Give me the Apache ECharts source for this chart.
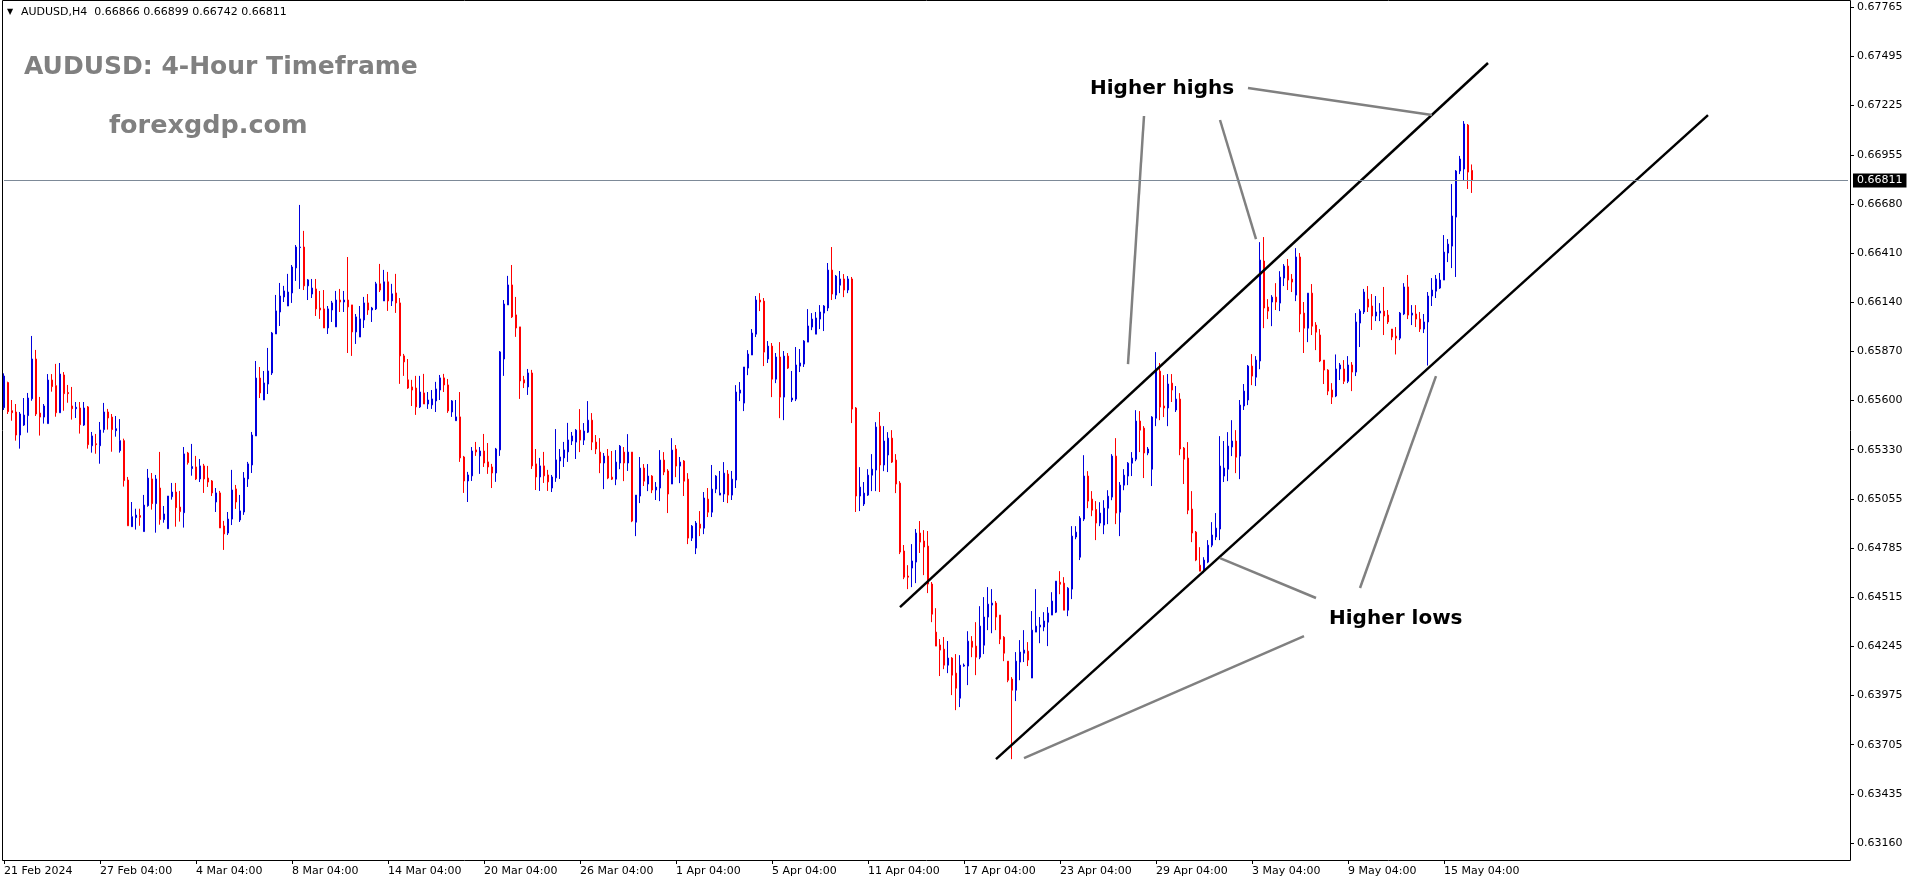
<!DOCTYPE html>
<html>
<head>
<meta charset="utf-8">
<script src="https://cdn.jsdelivr.net/npm/echarts@6/dist/echarts.min.js"></script>
<style>
html,body{margin:0;padding:0;background:#fff;}
#chart{width:1914px;height:884px;}
</style>
</head>
<body>
<div id="chart"></div>
<script>
// ---- DATA (AUDUSD H4, bar 0 = 21 Feb 2024 04:00) ----
const opens = [0.65559,0.65697,0.65542,0.65535,0.65408,0.65463,0.65515,0.65608,0.65827,0.65529,0.65507,0.65471,0.65711,0.65680,0.65531,0.65739,0.65642,0.65568,0.65553,0.65557,0.65463,0.65563,0.65349,0.65360,0.65349,0.65438,0.65535,0.65507,0.65432,0.65322,0.65377,0.65160,0.64903,0.64953,0.64964,0.64876,0.65019,0.65166,0.65030,0.65116,0.64942,0.64892,0.65068,0.65094,0.65011,0.64980,0.65309,0.65223,0.65232,0.65166,0.65238,0.65171,0.65155,0.65039,0.65089,0.64907,0.64868,0.64945,0.65111,0.64940,0.64984,0.65166,0.65243,0.65403,0.65722,0.65601,0.65689,0.65750,0.65965,0.66086,0.66169,0.66119,0.66191,0.66329,0.66441,0.66444,0.66230,0.66185,0.66213,0.66108,0.66103,0.65998,0.66097,0.66004,0.66152,0.66141,0.66152,0.66125,0.65976,0.65948,0.66042,0.66136,0.66097,0.66103,0.66241,0.66147,0.66252,0.66147,0.66191,0.66136,0.65844,0.65712,0.65673,0.65667,0.65563,0.65640,0.65579,0.65574,0.65596,0.65656,0.65723,0.65684,0.65535,0.65487,0.65508,0.65287,0.65155,0.65183,0.65326,0.65293,0.65320,0.65260,0.65232,0.65199,0.65326,0.65827,0.66125,0.66235,0.66070,0.66004,0.65712,0.65673,0.65750,0.65249,0.65177,0.65238,0.65188,0.65116,0.65172,0.65265,0.65282,0.65315,0.65375,0.65369,0.65435,0.65380,0.65424,0.65490,0.65369,0.65314,0.65254,0.65292,0.65176,0.65165,0.65254,0.65314,0.65254,0.65314,0.64928,0.65072,0.65226,0.65138,0.65182,0.65105,0.65116,0.65270,0.65210,0.65138,0.65331,0.65237,0.65265,0.65165,0.64840,0.64785,0.64917,0.64895,0.65055,0.64983,0.65110,0.65077,0.65083,0.65193,0.65077,0.65160,0.65639,0.65584,0.65777,0.65849,0.65964,0.66152,0.66146,0.65827,0.65898,0.65716,0.65838,0.65617,0.65843,0.65601,0.65606,0.65788,0.65799,0.65920,0.66003,0.65964,0.66047,0.66080,0.66108,0.66317,0.66179,0.66234,0.66268,0.66207,0.66268,0.65557,0.65072,0.65028,0.65077,0.65187,0.65215,0.65457,0.65243,0.65298,0.65391,0.65270,0.65143,0.64769,0.64631,0.64675,0.64708,0.64868,0.64824,0.64796,0.64587,0.64322,0.64251,0.64228,0.64140,0.64179,0.64096,0.63958,0.64135,0.64135,0.64272,0.64245,0.64184,0.64250,0.64405,0.64471,0.64482,0.64416,0.64294,0.64162,0.64063,0.64002,0.64157,0.64206,0.64217,0.64069,0.64322,0.64350,0.64350,0.64377,0.64416,0.64432,0.64597,0.64592,0.64443,0.64559,0.64846,0.64735,0.64945,0.65182,0.65055,0.64998,0.64923,0.64912,0.65005,0.65066,0.65292,0.64983,0.65132,0.65182,0.65253,0.65275,0.65485,0.65446,0.65309,0.65220,0.65501,0.65760,0.65568,0.65557,0.65694,0.65546,0.65606,0.65336,0.65281,0.65000,0.64873,0.64691,0.64664,0.64708,0.64801,0.64846,0.64890,0.65182,0.65220,0.65342,0.65375,0.65292,0.65568,0.65601,0.65788,0.65727,0.65816,0.66367,0.66113,0.66141,0.66168,0.66135,0.66273,0.66339,0.66267,0.66179,0.66389,0.66080,0.65997,0.66190,0.66014,0.65959,0.65821,0.65766,0.65656,0.65623,0.65772,0.65772,0.65704,0.65794,0.65755,0.66025,0.66086,0.66157,0.66119,0.66064,0.66080,0.66091,0.66069,0.65992,0.65953,0.65942,0.66075,0.66224,0.66069,0.66075,0.66047,0.65992,0.66031,0.66174,0.66201,0.66218,0.66262,0.66411,0.66449,0.66609,0.66863,0.66874,0.67116,0.66866];
const highs = [0.65748,0.65702,0.65601,0.65579,0.65535,0.65612,0.65640,0.65954,0.65877,0.65618,0.65579,0.65744,0.65744,0.65800,0.65805,0.65755,0.65684,0.65673,0.65590,0.65590,0.65590,0.65568,0.65425,0.65414,0.65480,0.65585,0.65552,0.65524,0.65513,0.65496,0.65388,0.65177,0.65039,0.65002,0.65002,0.65078,0.65221,0.65199,0.65188,0.65315,0.65017,0.65072,0.65144,0.65144,0.65100,0.65342,0.65315,0.65359,0.65293,0.65276,0.65249,0.65238,0.65160,0.65116,0.65100,0.64935,0.64984,0.65216,0.65133,0.65078,0.65204,0.65260,0.65425,0.65816,0.65783,0.65761,0.65888,0.65976,0.66180,0.66246,0.66230,0.66296,0.66345,0.66455,0.66676,0.66533,0.66268,0.66268,0.66268,0.66202,0.66207,0.66119,0.66147,0.66202,0.66213,0.66202,0.66389,0.66125,0.66075,0.66119,0.66169,0.66185,0.66114,0.66252,0.66351,0.66318,0.66307,0.66241,0.66296,0.66163,0.65855,0.65827,0.65712,0.65734,0.65734,0.65745,0.65645,0.65656,0.65701,0.65739,0.65745,0.65717,0.65601,0.65601,0.65645,0.65293,0.65205,0.65342,0.65370,0.65342,0.65414,0.65364,0.65249,0.65337,0.65871,0.66152,0.66285,0.66345,0.66169,0.66004,0.65734,0.65772,0.65767,0.65331,0.65282,0.65315,0.65216,0.65188,0.65441,0.65331,0.65370,0.65475,0.65425,0.65441,0.65551,0.65474,0.65595,0.65529,0.65408,0.65391,0.65309,0.65331,0.65320,0.65325,0.65353,0.65342,0.65413,0.65314,0.65077,0.65287,0.65248,0.65248,0.65187,0.65149,0.65325,0.65314,0.65220,0.65391,0.65353,0.65287,0.65270,0.65198,0.64912,0.64934,0.64989,0.65094,0.65116,0.65243,0.65187,0.65210,0.65259,0.65215,0.65210,0.65683,0.65700,0.65783,0.65876,0.65992,0.66174,0.66190,0.66163,0.65926,0.65915,0.65860,0.65920,0.65871,0.65860,0.65761,0.65893,0.65882,0.65931,0.66102,0.66080,0.66086,0.66124,0.66124,0.66356,0.66444,0.66290,0.66312,0.66295,0.66284,0.66279,0.65562,0.65231,0.65149,0.65220,0.65303,0.65479,0.65535,0.65457,0.65424,0.65435,0.65303,0.65154,0.64802,0.64691,0.64807,0.64890,0.64934,0.64884,0.64879,0.64598,0.64454,0.64284,0.64295,0.64273,0.64184,0.64201,0.64195,0.64149,0.64327,0.64300,0.64377,0.64465,0.64515,0.64570,0.64559,0.64493,0.64416,0.64300,0.64162,0.64074,0.64212,0.64278,0.64333,0.64267,0.64438,0.64559,0.64405,0.64432,0.64460,0.64542,0.64603,0.64658,0.64625,0.64570,0.64906,0.64906,0.64961,0.65297,0.65209,0.65099,0.65044,0.65038,0.65049,0.65104,0.65303,0.65391,0.65149,0.65220,0.65259,0.65314,0.65545,0.65540,0.65457,0.65342,0.65512,0.65865,0.65805,0.65738,0.65744,0.65744,0.65678,0.65639,0.65342,0.65369,0.65099,0.64879,0.64790,0.64735,0.64829,0.64928,0.64978,0.65402,0.65375,0.65424,0.65490,0.65435,0.65601,0.65689,0.65794,0.65854,0.65843,0.66471,0.66499,0.66157,0.66179,0.66245,0.66311,0.66350,0.66378,0.66295,0.66438,0.66411,0.66141,0.66190,0.66240,0.66030,0.65992,0.65821,0.65771,0.65694,0.65852,0.65805,0.65821,0.65843,0.65810,0.66080,0.66102,0.66213,0.66229,0.66185,0.66174,0.66135,0.66224,0.66097,0.65992,0.66003,0.66086,0.66245,0.66290,0.66124,0.66124,0.66086,0.66075,0.66196,0.66273,0.66290,0.66301,0.66510,0.66488,0.66791,0.66868,0.66946,0.67138,0.67122,0.66899];
const lows = [0.65546,0.65524,0.65487,0.65377,0.65333,0.65458,0.65421,0.65597,0.65513,0.65405,0.65471,0.65471,0.65647,0.65509,0.65531,0.65542,0.65586,0.65493,0.65502,0.65416,0.65458,0.65333,0.65311,0.65305,0.65250,0.65421,0.65438,0.65316,0.65399,0.65311,0.65124,0.64908,0.64903,0.64887,0.64908,0.64876,0.65013,0.64997,0.64870,0.64914,0.64925,0.64892,0.65052,0.64903,0.64931,0.64898,0.65245,0.65184,0.65160,0.65149,0.65089,0.65122,0.65072,0.64984,0.64896,0.64775,0.64857,0.64912,0.65001,0.64929,0.64968,0.65122,0.65199,0.65403,0.65612,0.65601,0.65634,0.65739,0.65965,0.66009,0.66141,0.66119,0.66136,0.66257,0.66213,0.66207,0.66152,0.66163,0.66064,0.66048,0.65998,0.65965,0.66031,0.66004,0.66086,0.66086,0.65860,0.65844,0.65910,0.65948,0.65998,0.66070,0.66031,0.66097,0.66196,0.66147,0.66092,0.66119,0.66081,0.65690,0.65734,0.65662,0.65568,0.65519,0.65557,0.65579,0.65552,0.65552,0.65535,0.65601,0.65645,0.65530,0.65508,0.65487,0.65260,0.65089,0.65039,0.65155,0.65293,0.65194,0.65232,0.65194,0.65116,0.65150,0.65293,0.65734,0.66125,0.66053,0.65949,0.65607,0.65667,0.65629,0.65221,0.65105,0.65100,0.65144,0.65100,0.65094,0.65150,0.65166,0.65232,0.65260,0.65353,0.65276,0.65314,0.65353,0.65419,0.65325,0.65303,0.65198,0.65110,0.65165,0.65160,0.65132,0.65220,0.65154,0.65210,0.64928,0.64851,0.65033,0.65127,0.65099,0.65088,0.65050,0.65044,0.65187,0.64978,0.65138,0.65176,0.65143,0.65072,0.64807,0.64824,0.64752,0.64851,0.64862,0.64956,0.64956,0.65088,0.65077,0.65039,0.65033,0.65050,0.65116,0.65595,0.65540,0.65738,0.65849,0.65948,0.66091,0.65788,0.65805,0.65617,0.65694,0.65501,0.65490,0.65772,0.65590,0.65595,0.65755,0.65783,0.65920,0.65986,0.65964,0.65992,0.65981,0.66091,0.66152,0.66157,0.66190,0.66168,0.66190,0.65474,0.64984,0.64989,0.65017,0.65072,0.65099,0.65099,0.65094,0.65209,0.65204,0.65254,0.65088,0.64752,0.64614,0.64559,0.64570,0.64592,0.64758,0.64636,0.64537,0.64377,0.64245,0.64080,0.64118,0.64096,0.63975,0.63892,0.63909,0.64131,0.64030,0.64184,0.64085,0.64173,0.64201,0.64333,0.64316,0.64333,0.64256,0.64162,0.64046,0.63622,0.63942,0.64057,0.64157,0.64135,0.64069,0.64322,0.64261,0.64327,0.64245,0.64416,0.64427,0.64531,0.64443,0.64410,0.64504,0.64834,0.64719,0.64934,0.65005,0.64961,0.64829,0.64906,0.64862,0.64917,0.65049,0.64917,0.64851,0.65104,0.65132,0.65182,0.65264,0.65314,0.65171,0.65297,0.65127,0.65457,0.65490,0.65507,0.65457,0.65590,0.65535,0.65297,0.65138,0.64972,0.64818,0.64713,0.64658,0.64647,0.64702,0.64790,0.64829,0.64829,0.65149,0.65154,0.65292,0.65198,0.65165,0.65546,0.65573,0.65683,0.65678,0.65771,0.65997,0.66047,0.66008,0.66097,0.66091,0.66229,0.66207,0.66196,0.66146,0.65975,0.65860,0.65920,0.65959,0.65876,0.65810,0.65689,0.65628,0.65579,0.65617,0.65711,0.65689,0.65694,0.65650,0.65733,0.65893,0.66075,0.66086,0.65987,0.66036,0.66036,0.65959,0.66020,0.65931,0.65852,0.65931,0.66069,0.66047,0.66014,0.66003,0.65976,0.65970,0.65791,0.66119,0.66163,0.66213,0.66262,0.66361,0.66328,0.66279,0.66846,0.66813,0.66764,0.66742];
const closes = [0.65733,0.65537,0.65531,0.65408,0.65524,0.65518,0.65612,0.65827,0.65524,0.65507,0.65568,0.65711,0.65675,0.65531,0.65744,0.65636,0.65636,0.65553,0.65561,0.65465,0.65557,0.65355,0.65403,0.65355,0.65436,0.65535,0.65502,0.65438,0.65443,0.65377,0.65157,0.64908,0.64958,0.64967,0.64955,0.65022,0.65171,0.65030,0.65166,0.64942,0.64973,0.65072,0.65094,0.65008,0.64986,0.65304,0.65256,0.65234,0.65166,0.65238,0.65166,0.65149,0.65089,0.65089,0.64896,0.64863,0.64945,0.65105,0.65039,0.64990,0.65171,0.65249,0.65408,0.65722,0.65640,0.65695,0.65761,0.65970,0.66092,0.66174,0.66202,0.66196,0.66334,0.66444,0.66444,0.66230,0.66263,0.66218,0.66103,0.66097,0.65998,0.66103,0.66136,0.66152,0.66141,0.66152,0.66114,0.65976,0.66059,0.66048,0.66136,0.66097,0.66108,0.66241,0.66207,0.66252,0.66147,0.66186,0.66136,0.65844,0.65811,0.65667,0.65656,0.65563,0.65645,0.65579,0.65601,0.65607,0.65662,0.65723,0.65684,0.65541,0.65596,0.65508,0.65282,0.65155,0.65188,0.65320,0.65315,0.65320,0.65254,0.65232,0.65199,0.65331,0.65866,0.66130,0.66235,0.66059,0.65998,0.65706,0.65695,0.65750,0.65238,0.65177,0.65238,0.65183,0.65150,0.65177,0.65271,0.65287,0.65326,0.65381,0.65403,0.65435,0.65380,0.65430,0.65490,0.65369,0.65331,0.65254,0.65292,0.65171,0.65165,0.65259,0.65347,0.65254,0.65314,0.64934,0.65077,0.65226,0.65154,0.65182,0.65105,0.65121,0.65270,0.65204,0.65083,0.65325,0.65237,0.65259,0.65154,0.64840,0.64906,0.64923,0.64895,0.65061,0.64983,0.65110,0.65182,0.65088,0.65198,0.65077,0.65165,0.65645,0.65656,0.65783,0.65854,0.65970,0.66152,0.66141,0.65865,0.65898,0.65716,0.65838,0.65617,0.65843,0.65777,0.65612,0.65794,0.65805,0.65926,0.66009,0.66047,0.66053,0.66086,0.66119,0.66317,0.66185,0.66284,0.66268,0.66207,0.66268,0.65551,0.65072,0.65121,0.65088,0.65187,0.65220,0.65452,0.65243,0.65375,0.65391,0.65259,0.65138,0.64763,0.64625,0.64625,0.64714,0.64868,0.64818,0.64791,0.64587,0.64421,0.64245,0.64223,0.64140,0.64179,0.64085,0.64013,0.64140,0.64140,0.64272,0.64239,0.64184,0.64355,0.64405,0.64476,0.64482,0.64405,0.64283,0.64206,0.64057,0.64002,0.64162,0.64212,0.64223,0.64168,0.64333,0.64355,0.64361,0.64383,0.64427,0.64493,0.64603,0.64586,0.64443,0.64564,0.64851,0.64873,0.64950,0.65182,0.65044,0.64994,0.64923,0.64978,0.65005,0.65071,0.65292,0.64978,0.65132,0.65187,0.65253,0.65281,0.65485,0.65435,0.65309,0.65331,0.65507,0.65771,0.65562,0.65557,0.65689,0.65656,0.65606,0.65331,0.65275,0.64994,0.64868,0.64719,0.64658,0.64719,0.64801,0.64857,0.64895,0.65237,0.65226,0.65347,0.65375,0.65286,0.65573,0.65650,0.65788,0.65733,0.65821,0.66372,0.66108,0.66091,0.66168,0.66141,0.66278,0.66339,0.66262,0.66251,0.66389,0.66075,0.65997,0.66190,0.66008,0.65975,0.65816,0.65766,0.65650,0.65617,0.65772,0.65794,0.65704,0.65794,0.65755,0.66031,0.66091,0.66196,0.66113,0.66064,0.66086,0.66091,0.66064,0.66031,0.65948,0.65942,0.66080,0.66224,0.66069,0.66080,0.66047,0.65992,0.66031,0.66174,0.66207,0.66268,0.66262,0.66416,0.66460,0.66615,0.66863,0.66929,0.67122,0.66857,0.66811];

const xTickLabels = ['21 Feb 2024','27 Feb 04:00','4 Mar 04:00','8 Mar 04:00','14 Mar 04:00','20 Mar 04:00','26 Mar 04:00','1 Apr 04:00','5 Apr 04:00','11 Apr 04:00','17 Apr 04:00','23 Apr 04:00','29 Apr 04:00','3 May 04:00','9 May 04:00','15 May 04:00'];
const barsPerLabel = 24;
const yTickLabels = ['0.63160','0.63435','0.63705','0.63975','0.64245','0.64515','0.64785','0.65055','0.65330','0.65600','0.65870','0.66140','0.66410','0.66680','0.66955','0.67225','0.67495','0.67765'];
const lastPrice = 0.66811;
const headerText = 'AUDUSD,H4  0.66866 0.66899 0.66742 0.66811';

// channel lines [[barIndex, price],[barIndex, price]]
const channelLines = [
  [[224, 0.64460], [371, 0.67458]],
  [[248, 0.63622], [426, 0.67171]]
];
// annotation pointer lines
const pointerLines = [
  [[311, 0.67320], [357, 0.67171]],
  [[304, 0.67144], [313, 0.66488]],
  [[285, 0.67166], [281, 0.65799]],
  [[328, 0.64510], [304, 0.64730]],
  [[339, 0.64565], [358, 0.65733]],
  [[325, 0.64300], [255, 0.63628]]
];

// ---- CHART ----
const slotCount = 462; // chart shift leaves empty space on the right
const categories = Array.from({length: slotCount}, (_, i) => String(i));
const candles = opens.map((o, i) => [o, closes[i], lows[i], highs[i]]);
const yMin = 0.63160, yMax = 0.67765;
const yInterval = (yMax - yMin) / 17;
const isLabelIdx = (i) => i % barsPerLabel === 0 && i / barsPerLabel < xTickLabels.length;

const markData = [];
channelLines.forEach(l => markData.push([
  {coord: l[0], lineStyle: {color: '#000', width: 2.5, type: 'solid'}},
  {coord: l[1]}
]));
pointerLines.forEach(l => markData.push([
  {coord: l[0], lineStyle: {color: '#808080', width: 2.5, type: 'solid'}},
  {coord: l[1]}
]));
// current price line across the whole plot
markData.push([
  {coord: [0, lastPrice], lineStyle: {color: '#7d8a98', width: 1, type: 'solid'},
   label: {
     show: true, position: 'end', distance: 5,
     formatter: () => lastPrice.toFixed(5),
     backgroundColor: '#000', color: '#fff', padding: [2, 4, 1, 4],
     fontFamily: 'DejaVu Sans', fontSize: 11
   }},
  {coord: [slotCount - 1, lastPrice]}
]);

const chart = echarts.init(document.getElementById('chart'), null, {renderer: 'canvas'});
chart.setOption({
  animation: false,
  backgroundColor: '#fff',
  grid: {left: 2, right: 64, top: 7.3, bottom: 41, containLabel: false},
  xAxis: {
    type: 'category',
    data: categories,
    boundaryGap: true,
    offset: 17,
    axisLine: {show: false},
    axisTick: {show: true, alignWithLabel: true, interval: (i) => isLabelIdx(i), length: 4, lineStyle: {color: '#000'}},
    axisLabel: {
      show: true, interval: (i) => isLabelIdx(i),
      formatter: (v, i) => isLabelIdx(i) ? xTickLabels[i / barsPerLabel] : '',
      align: 'left', margin: 6, color: '#000', fontFamily: 'DejaVu Sans', fontSize: 11
    },
    splitLine: {show: false}
  },
  yAxis: {
    type: 'value', position: 'right', scale: true,
    min: yMin, max: yMax, interval: yInterval,
    axisLine: {show: false},
    axisTick: {show: true, length: 4, lineStyle: {color: '#000'}},
    axisLabel: {
      margin: 7, color: '#000', fontFamily: 'DejaVu Sans', fontSize: 11,
      formatter: (v) => yTickLabels[Math.round((v - yMin) / yInterval)] || ''
    },
    splitLine: {show: false}
  },
  series: [{
    type: 'candlestick',
    data: candles,
    barWidth: 2,
    itemStyle: {color: '#0000dd', color0: '#ff0000', borderColor: '#0000dd', borderColor0: '#ff0000', borderWidth: 1},
    markLine: {silent: true, symbol: ['none', 'none'], label: {show: false}, data: markData, animation: false}
  }],
  graphic: [
    {type: 'rect', shape: {x: 2.5, y: 0.5, width: 1848, height: 860}, style: {fill: 'none', stroke: '#000', lineWidth: 1}, silent: true, z: 100},
    {type: 'text', x: 7, y: 12, style: {text: '▼', font: '8px "DejaVu Sans"', fill: '#000', verticalAlign: 'middle'}},
    {type: 'text', x: 21, y: 12, style: {text: headerText, font: '11px "DejaVu Sans"', fill: '#000', verticalAlign: 'middle'}},
    {type: 'text', x: 24, y: 67, style: {text: 'AUDUSD: 4-Hour Timeframe', font: 'bold 25px "DejaVu Sans"', fill: '#808080', verticalAlign: 'middle'}},
    {type: 'text', x: 109, y: 126, style: {text: 'forexgdp.com', font: 'bold 25.5px "DejaVu Sans"', fill: '#808080', verticalAlign: 'middle'}},
    {type: 'text', x: 1090, y: 89, style: {text: 'Higher highs', font: 'bold 20px "DejaVu Sans"', fill: '#000', verticalAlign: 'middle'}},
    {type: 'text', x: 1329, y: 619, style: {text: 'Higher lows', font: 'bold 20px "DejaVu Sans"', fill: '#000', verticalAlign: 'middle'}}
  ]
});
</script>
</body>
</html>
